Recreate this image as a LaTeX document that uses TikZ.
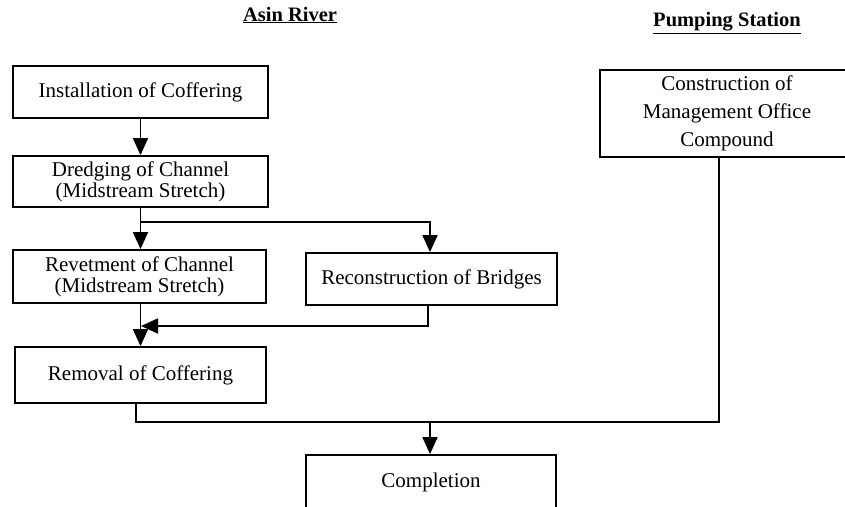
\documentclass[tikz,border=0pt]{standalone}
\usepackage{fontspec}
\setmainfont{Liberation Serif}
\usetikzlibrary{arrows.meta}
\begin{document}
\begin{tikzpicture}[x=1pt,y=-1pt,
  box/.style={draw,line width=1.8pt,inner sep=0pt,align=center,
    font=\fontsize{21}{21}\selectfont},
  title/.style={font=\fontsize{20.5}{22}\selectfont\bfseries,anchor=base},
  link/.style={line width=1.8pt},
  arr/.style={line width=1.8pt,-{Triangle[length=17pt,width=15pt]}}]
\useasboundingbox (0,0) rectangle (845,506);
\clip (0,0) rectangle (845,506);
\fill[white] (0,0) rectangle (845,506);

% column headings
\node[title] (hRiver) at (290,21) {\underline{Asin River}};
\node[title] (hPump) at (727,27) {\underline{Pumping Station}};

% river works
\node[box,minimum width=255pt,minimum height=52pt] (b1) at (140.5,92) {Installation of Coffering};
\node[box,minimum width=255pt,minimum height=51pt] (b2) at (140.5,181.5) {Dredging of Channel\\(Midstream Stretch)};
\node[box,minimum width=253pt,minimum height=53pt] (b3) at (139.5,276.5) {Revetment of Channel\\(Midstream Stretch)};
\node[box,minimum width=251pt,minimum height=52pt] (rec) at (431.5,279) {Reconstruction of Bridges};
\node[box,minimum width=251pt,minimum height=56pt] (rem) at (140.5,375) {Removal of Coffering};

% pumping station works
\node[box,minimum width=254pt,minimum height=87pt,font=\fontsize{21}{28}\selectfont] (cons) at (727,113.5) {Construction of\\Management Office\\Compound};

% final step
\node[box,minimum width=250pt,minimum height=54pt] (comp) at (431,482) {Completion};

% junction points
\coordinate (j1) at (140.5,222);
\coordinate (j2) at (141,326);
\coordinate (j3) at (719,422);
\coordinate (j4) at (430,422);

% connectors
\draw[arr] (b1.south) -- (b2.north);
\draw[arr] (b2.south) -- (b2.south |- b3.north);
\draw[arr] (j1) -| ([xshift=-1.5pt]rec.north);
\draw[arr] ([xshift=-3.5pt]rec.south) |- (j2);
\draw[arr] (b3.south -| b2.south) -- (b2.south |- rem.north);
\draw[link] ([xshift=-4.5pt]rem.south) |- (j3) -- ([xshift=-8pt]cons.south);
\draw[arr] (j4) -- (comp.north -| j4);
\end{tikzpicture}
\end{document}
